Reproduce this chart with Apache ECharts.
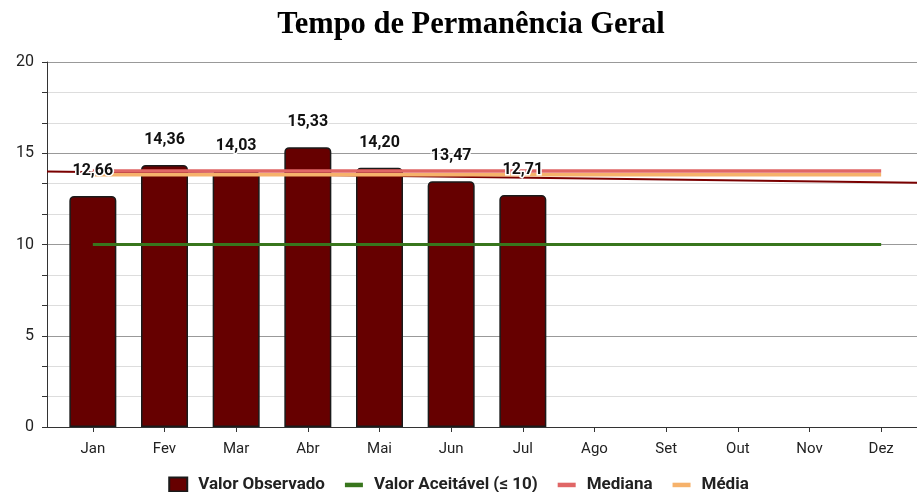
<!DOCTYPE html>
<html><head><meta charset="utf-8">
<script src="https://cdn.jsdelivr.net/npm/echarts@6/dist/echarts.min.js"></script>
<style>html,body{margin:0;padding:0;background:#fff}#c{width:917px;height:492px}</style>
</head><body><div id="c"></div>
<script>
const months = ['Jan','Fev','Mar','Abr','Mai','Jun','Jul','Ago','Set','Out','Nov','Dez'];
const observed = [12.66,14.36,14.03,15.33,14.20,13.47,12.71,null,null,null,null,null];
const acceptable = [10,10,10,10,10,10,10,10,10,10,10,10];
const median = [14.03,14.03,14.03,14.03,14.03,14.03,14.03,14.03,14.03,14.03,14.03,14.03];
const mean = [13.82,13.82,13.82,13.82,13.82,13.82,13.82,13.82,13.82,13.82,13.82,13.82];
const trendEnds = [14.0, 13.38];

const fmt = v => v.toFixed(2).replace('.', ',');
const lineIcon = 'path://M0,0 M0,5 L20,5 L20,10 L0,10 Z M20,14';
const chart = echarts.init(document.getElementById('c'));
const TOP = 62, BOTTOM = 65;
chart.setOption({
  animation: false,
  textStyle: {fontFamily: 'Roboto'},
  title: {
    text: 'Tempo de Permanência Geral', left: 466, top: 5, textAlign: 'center',
    textStyle: {fontFamily: 'Liberation Serif', fontWeight: 'bold', fontSize: 30.5, color: '#000'}
  },
  legend: {
    top: 471, left: 'center', itemWidth: 18, itemHeight: 14, itemGap: 20,
    textStyle: {fontSize: 17, fontWeight: 'bold', color: '#222', padding: [0, 0, 0, 6]},
    data: [{name: 'Valor Observado', icon: 'rect'},
           {name: 'Valor Aceitável (≤ 10)', icon: lineIcon},
           {name: 'Mediana', icon: lineIcon},
           {name: 'Média', icon: lineIcon}]
  },
  grid: [
    {left: 47, right: 0, top: TOP, bottom: BOTTOM},
    {left: 57, right: 0, top: TOP, bottom: BOTTOM}
  ],
  xAxis: [
    {gridIndex: 0, type: 'value', min: 0, max: 1, show: true,
     axisLine: {show: true, lineStyle: {color: '#333', width: 1}}, axisTick: {show: false},
     axisLabel: {show: false}, splitLine: {show: false}},
    {gridIndex: 1, type: 'category', data: months, boundaryGap: true,
     axisLine: {show: false}, axisTick: {show: true, alignWithLabel: true, length: 5, lineStyle: {color: '#333'}},
     axisLabel: {fontSize: 15, color: '#222', margin: 15}}
  ],
  yAxis: [
    {gridIndex: 0, type: 'value', min: 0, max: 20, interval: 5,
     axisLine: {show: true, lineStyle: {color: '#333', width: 1}},
     axisTick: {show: true, length: 5, lineStyle: {color: '#333'}},
     minorTick: {show: true, splitNumber: 3, length: 5, lineStyle: {color: '#333'}},
     axisLabel: {fontSize: 16, color: '#222', margin: 13},
     splitLine: {show: true, lineStyle: {color: '#999', width: 1}},
     minorSplitLine: {show: true, lineStyle: {color: '#ddd', width: 1}}},
    {gridIndex: 1, type: 'value', min: 0, max: 20, show: false, splitLine: {show: false}}
  ],
  series: [
    {name: 'Tendência', type: 'line', xAxisIndex: 0, yAxisIndex: 0, z: 3,
     data: [[0, trendEnds[0]], [1, trendEnds[1]]], symbol: 'none',
     lineStyle: {color: '#7a0000', width: 2}},
    {name: 'Valor Observado', type: 'bar', xAxisIndex: 1, yAxisIndex: 1, z: 2,
     data: observed, barWidth: 47,
     itemStyle: {color: '#660000', borderColor: '#1a1a1a', borderWidth: 1.5, borderRadius: [4,4,0,0]}},
    {name: 'Valor Aceitável (≤ 10)', type: 'line', xAxisIndex: 1, yAxisIndex: 1, z: 4,
     data: acceptable, symbol: 'none', lineStyle: {color: '#38761d', width: 3}, itemStyle: {color: '#38761d'}},
    {name: 'Média', type: 'line', xAxisIndex: 1, yAxisIndex: 1, z: 4,
     data: mean, symbol: 'none', lineStyle: {color: '#f6b26b', width: 3.5}, itemStyle: {color: '#f6b26b'}},
    {name: 'Mediana', type: 'line', xAxisIndex: 1, yAxisIndex: 1, z: 4,
     data: median, symbol: 'none', lineStyle: {color: '#e06666', width: 3.5}, itemStyle: {color: '#e06666'}},
    {name: 'labels', type: 'bar', xAxisIndex: 1, yAxisIndex: 1, z: 10, barGap: '-100%',
     data: observed, barWidth: 47, itemStyle: {color: 'rgba(0,0,0,0)'}, silent: true,
     label: {show: true, position: 'top', distance: 17, fontSize: 16, fontWeight: 'bold', color: '#111',
             textBorderColor: '#fff', textBorderWidth: 3,
             formatter: p => p.value == null ? '' : fmt(p.value)}}
  ]
});
</script></body></html>
